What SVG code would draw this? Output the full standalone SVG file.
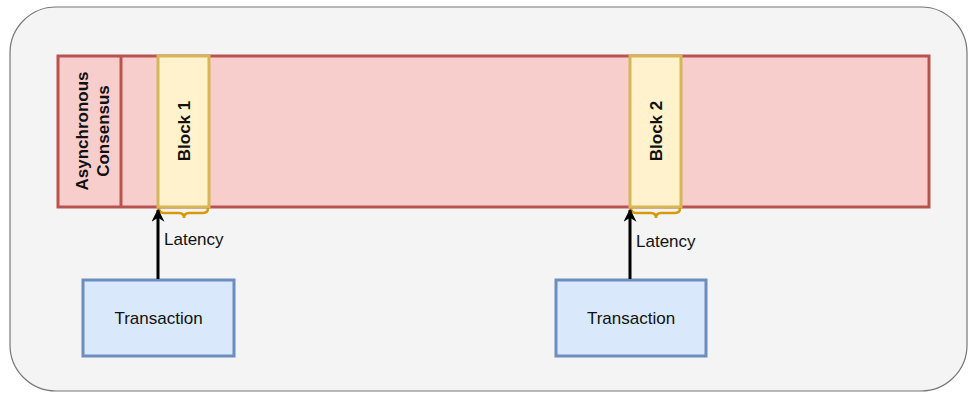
<svg xmlns="http://www.w3.org/2000/svg" width="969" height="393" viewBox="0 0 969 393">
<defs>
<style>
text{font-family:"Liberation Sans",Arial,sans-serif;fill:#111;}
.b{font-weight:bold;font-size:17px;text-anchor:middle;}
.t{font-size:17px;text-anchor:middle;}
.l{font-size:17px;}
.blk{fill:#fff2cc;stroke:#d6b656;stroke-width:3;}
.tx{fill:#dae8fc;stroke:#6c8ebf;stroke-width:3;}
.brace{fill:none;stroke:#d79b00;stroke-width:2.5;}
.arr{stroke:#000;stroke-width:3;fill:none;}
</style>
<marker id="ah" viewBox="0 0 10 10" refX="9" refY="5" markerWidth="13" markerHeight="13" orient="auto" markerUnits="userSpaceOnUse">
<path d="M0,0 L10,5 L0,10 L3,5 Z" fill="#000"/>
</marker>
</defs>
<rect id="container" x="10" y="7" width="957" height="384" rx="46" fill="#f4f4f4" stroke="#777" stroke-width="1.2"/>
<g id="consensus">
<rect x="58" y="56" width="871" height="151" fill="#f8cecc" stroke="#b85450" stroke-width="3"/>
<line x1="121" y1="56" x2="121" y2="207" stroke="#b85450" stroke-width="3"/>
<text class="b" transform="translate(90,131) rotate(-90)"><tspan x="0" y="-2">Asynchronous</tspan><tspan x="0" y="19">Consensus</tspan></text>
</g>
<g id="block1">
<rect class="blk" x="158" y="56" width="51" height="151"/>
<text class="b" transform="translate(189.5,131) rotate(-90)" x="0" y="0">Block 1</text>
</g>
<g id="block2">
<rect class="blk" x="630" y="56" width="51" height="151"/>
<text class="b" transform="translate(661.5,131) rotate(-90)" x="0" y="0">Block 2</text>
</g>
<g id="brace1">
<path class="brace" d="M159,208 Q159,213 164,213 L179,213 Q184,213 184,218 Q184,213 189,213 L203,213 Q208,213 208,208"/>
<text class="l" x="164" y="245">Latency</text>
</g>
<g id="brace2">
<path class="brace" d="M631,208 Q631,213 636,213 L651,213 Q656,213 656,218 Q656,213 661,213 L675,213 Q680,213 680,208"/>
<text class="l" x="636" y="247">Latency</text>
</g>
<g id="tx1">
<rect class="tx" x="83" y="280" width="151" height="76"/>
<text class="t" x="158.5" y="324">Transaction</text>
</g>
<g id="tx2">
<rect class="tx" x="556" y="280" width="150" height="76"/>
<text class="t" x="631" y="324">Transaction</text>
</g>
<g id="connectors">
<line class="arr" x1="158" y1="279" x2="158" y2="210" marker-end="url(#ah)"/>
<line class="arr" x1="630" y1="279" x2="630" y2="210" marker-end="url(#ah)"/>
</g>
</svg>
